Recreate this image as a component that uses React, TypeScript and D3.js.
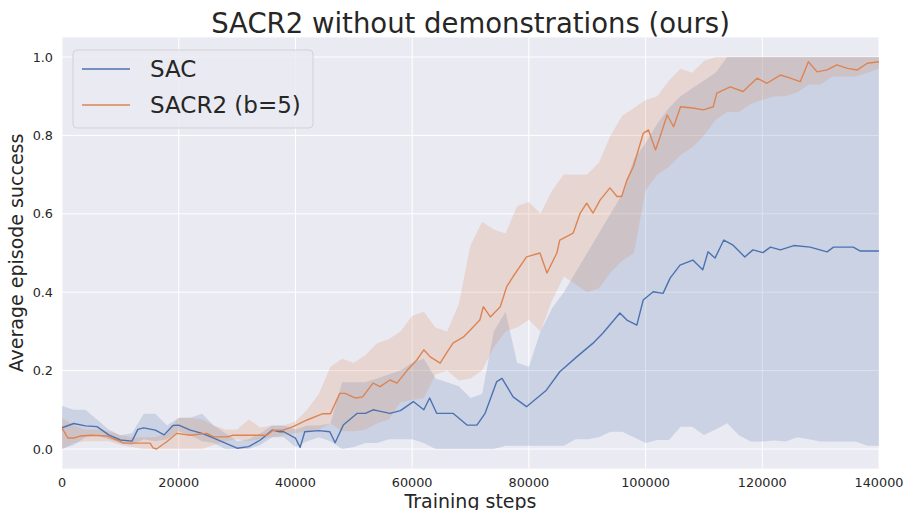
import { useMemo } from "react";
import * as d3 from "d3";

// band samples, every 2000 training steps
const bandSteps = d3.range(0, 140001, 2000);

const sacUpper = [
    0.11, 0.1, 0.1, 0.075, 0.05, 0.035, 0.04, 0.09, 0.09, 0.06,
    0.08, 0.08, 0.09, 0.06, 0.04, 0.02, 0.025, 0.04, 0.06, 0.06,
    0.05, 0.06, 0.06, 0.065, 0.17, 0.17, 0.17, 0.18, 0.19, 0.2,
    0.22, 0.23, 0.18, 0.17, 0.16, 0.13, 0.14, 0.3, 0.35, 0.22,
    0.21, 0.3, 0.36, 0.4, 0.45, 0.5, 0.55, 0.6, 0.65, 0.74,
    0.78, 0.83, 0.87, 0.9, 0.92, 0.94, 0.96, 1.0, 1.0, 1.0,
    1.0, 1.0, 1.0, 1.0, 1.0, 1.0, 1.0, 1.0, 1.0, 1.0,
    1.0,
];
const sacLower = [
    0.0, 0.01, 0.03, 0.035, 0.025, 0.015, 0.01, 0.025, 0.02, 0.025,
    0.045, 0.035, 0.02, 0.015, 0.0, 0.0, 0.0, 0.01, 0.03, 0.03,
    0.005, 0.02, 0.03, 0.02, 0.0, 0.005, 0.015, 0.015, 0.025, 0.025,
    0.025, 0.015, 0.0, 0.0, 0.0, 0.0, 0.0, 0.0, 0.008, 0.008,
    0.008, 0.008, 0.008, 0.008, 0.025, 0.025, 0.03, 0.044, 0.044, 0.03,
    0.015, 0.023, 0.023, 0.057, 0.057, 0.036, 0.05, 0.066, 0.035, 0.019,
    0.019, 0.022, 0.019, 0.03, 0.025, 0.019, 0.019, 0.019, 0.019, 0.008,
    0.008,
];
const sacr2Upper = [
    0.08, 0.06, 0.05, 0.05, 0.045, 0.035, 0.03, 0.03, 0.03, 0.04,
    0.08, 0.08, 0.075, 0.06, 0.05, 0.05, 0.075, 0.055, 0.06, 0.06,
    0.07, 0.1, 0.14, 0.21, 0.23, 0.22, 0.24, 0.27, 0.28, 0.3,
    0.34, 0.35, 0.31, 0.3, 0.37, 0.52, 0.58, 0.56, 0.55, 0.62,
    0.63, 0.6, 0.66, 0.7, 0.7, 0.7, 0.73, 0.8, 0.85, 0.87,
    0.89, 0.9, 0.94, 0.97, 0.96, 0.99, 1.0, 1.0, 1.0, 1.0,
    1.0, 1.0, 1.0, 1.0, 1.0, 1.0, 1.0, 1.0, 1.0, 1.0,
    1.0,
];
const sacr2Lower = [
    0.0, 0.015, 0.02, 0.02, 0.02, 0.01, 0.005, 0.0, 0.0, 0.0,
    0.0, 0.0, 0.0, 0.01, 0.02, 0.025, 0.02, 0.025, 0.03, 0.035,
    0.04, 0.045, 0.05, 0.066, 0.045, 0.045, 0.05, 0.066, 0.075, 0.12,
    0.125, 0.13, 0.19, 0.2, 0.175, 0.18, 0.2, 0.26, 0.3, 0.31,
    0.33, 0.3, 0.38, 0.44, 0.42, 0.4, 0.41, 0.45, 0.48, 0.5,
    0.66, 0.7, 0.72, 0.75, 0.77, 0.8, 0.84, 0.86, 0.86, 0.88,
    0.89, 0.9, 0.9, 0.91, 0.93, 0.93, 0.95, 0.95, 0.95, 0.96,
    0.97,
];

// mean curves, read at the turning points of each line
const sacSteps = [
    0, 2000, 4000, 6000, 8000, 10000, 12000, 13000, 14000, 16000, 17500, 19000, 20000,
    22000, 24000, 26000, 28000, 30000, 32000, 34000, 36000, 37300, 38000, 40000, 40800,
    41600, 44000, 45900, 46800, 48200, 50600, 52000, 53300, 54000, 56200, 58000, 60200,
    62000, 63000, 64200, 67000, 69400, 71100, 72500, 74500, 75400, 77300, 79600, 83000,
    85300, 88200, 91000, 92700, 95600, 96800, 98500, 99600, 101300, 103000, 104200,
    105900, 108100, 109800, 110700, 111900, 113400, 115000, 117000, 118400, 120100,
    121400, 123100, 125400, 128200, 131100, 132200, 135600, 136800, 140000,
];
const sacMean = [
    0.054, 0.065, 0.059, 0.057, 0.036, 0.023, 0.02, 0.05, 0.054, 0.048, 0.036, 0.06, 0.061,
    0.048, 0.04, 0.028, 0.015, 0.002, 0.006, 0.023, 0.048, 0.044, 0.044, 0.028, 0.004,
    0.044, 0.047, 0.044, 0.016, 0.061, 0.091, 0.091, 0.1, 0.098, 0.091, 0.098, 0.121,
    0.1, 0.13, 0.091, 0.091, 0.061, 0.061, 0.091, 0.172, 0.18, 0.133, 0.108, 0.15,
    0.197, 0.235, 0.27, 0.296, 0.347, 0.329, 0.316, 0.38, 0.401, 0.397, 0.436,
    0.469, 0.482, 0.457, 0.503, 0.487, 0.533, 0.52, 0.49, 0.508, 0.501,
    0.515, 0.508, 0.519, 0.515, 0.503, 0.515, 0.515, 0.505, 0.505,
];

const sacr2Steps = [
    0, 1000, 2000, 3100, 5000, 7700, 9400, 10500, 15100, 15600, 16200, 18000, 19700,
    22000, 24800, 26000, 28300, 29300, 35100, 36200, 37900, 39600, 42000, 44700, 46000,
    47600, 48500, 50300, 51500, 53300, 54500, 56200, 57400, 59100, 60800, 62000, 63100,
    64800, 65900, 67000, 68800, 70500, 71600, 72200, 73400, 75100, 76200, 77300, 79600,
    81900, 83100, 84800, 85300, 87600, 88800, 89900, 91000, 92200, 93900, 95100, 95900,
    96800, 97900, 99600, 100500, 101700, 102500, 103700, 104800, 106000, 108100, 109900,
    111600, 112200, 114500, 116700, 119100, 120800, 123100, 124800, 126500, 127900,
    129400, 131100, 132800, 134600, 136300, 138000, 140000,
];
const sacr2Mean = [
    0.054, 0.028, 0.028, 0.033, 0.035, 0.033, 0.023, 0.015, 0.015, 0.003, 0.0, 0.019, 0.04,
    0.035, 0.04, 0.031, 0.031, 0.035, 0.035, 0.048, 0.048, 0.057, 0.074, 0.09, 0.09,
    0.142, 0.142, 0.13, 0.133, 0.168, 0.159, 0.176, 0.168, 0.2, 0.227, 0.253, 0.235,
    0.219, 0.245, 0.27, 0.286, 0.312, 0.329, 0.363, 0.337, 0.363, 0.414, 0.44, 0.49,
    0.5, 0.449, 0.5, 0.533, 0.551, 0.602, 0.627, 0.602, 0.635, 0.666, 0.644, 0.644,
    0.686, 0.72, 0.805, 0.814, 0.763, 0.797, 0.852, 0.822, 0.873, 0.87, 0.865,
    0.873, 0.908, 0.924, 0.912, 0.946, 0.933, 0.954, 0.946, 0.937, 0.988,
    0.962, 0.967, 0.98, 0.971, 0.967, 0.984, 0.988,
];

const xTicks = [0, 20000, 40000, 60000, 80000, 100000, 120000, 140000];
const yTicks = [0.0, 0.2, 0.4, 0.6, 0.8, 1.0];

const seriesList = [
    { name: "SAC", color: "#4C72B0", steps: sacSteps, mean: sacMean, lower: sacLower, upper: sacUpper },
    { name: "SACR2 (b=5)", color: "#DD8452", steps: sacr2Steps, mean: sacr2Mean, lower: sacr2Lower, upper: sacr2Upper },
];

const W = 903;
const H = 510;
const plot = { left: 62, right: 879, top: 37.4, bottom: 468.6 };
const font = "DejaVu Sans, Verdana, sans-serif";
const ink = "#262626";

export default function App() {
    const x = useMemo(() => d3.scaleLinear().domain([0, 140000]).range([plot.left, plot.right]), []);
    const y = useMemo(() => d3.scaleLinear().domain([-0.05, 1.05]).range([plot.bottom, plot.top]), []);

    const line = (xs: number[], ys: number[]) =>
        d3.line<number>().x((_, i) => x(xs[i])).y(d => y(d))(ys) || "";
    const area = (lo: number[], hi: number[]) =>
        d3.area<number>()
            .x((_, i) => x(bandSteps[i]))
            .y0((_, i) => y(lo[i]))
            .y1((_, i) => y(hi[i]))(lo) || "";

    return (
        <svg width={W} height={H} style={{ position: "fixed", left: 0, top: 0, background: "#fff" }}>
            <defs>
                <clipPath id="plotclip">
                    <rect x={plot.left} y={plot.top} width={plot.right - plot.left} height={plot.bottom - plot.top} />
                </clipPath>
            </defs>
            <rect x={plot.left} y={plot.top} width={plot.right - plot.left} height={plot.bottom - plot.top} fill="#EAEAF2" />
            {xTicks.map(t => (
                <line key={`gx${t}`} x1={x(t)} x2={x(t)} y1={plot.top} y2={plot.bottom} stroke="#fff" strokeWidth={1} />
            ))}
            {yTicks.map(t => (
                <line key={`gy${t}`} x1={plot.left} x2={plot.right} y1={y(t)} y2={y(t)} stroke="#fff" strokeWidth={1} />
            ))}
            <g clipPath="url(#plotclip)">
                {seriesList.map(s => (
                    <path key={`band-${s.name}`} d={area(s.lower, s.upper)} fill={s.color} fillOpacity={0.2} stroke="none" />
                ))}
                {seriesList.map(s => (
                    <path key={`line-${s.name}`} d={line(s.steps, s.mean)} fill="none" stroke={s.color} strokeWidth={1.4} strokeLinejoin="round" />
                ))}
            </g>
            {xTicks.map(t => (
                <text key={`tx${t}`} x={x(t)} y={487} textAnchor="middle" fontFamily={font} fontSize={12.8} fill={ink}>
                    {t}
                </text>
            ))}
            {yTicks.map(t => (
                <text key={`ty${t}`} x={53} y={y(t) + 4.6} textAnchor="end" fontFamily={font} fontSize={12.8} fill={ink}>
                    {t.toFixed(1)}
                </text>
            ))}
            <text x={(plot.left + plot.right) / 2} y={33} textAnchor="middle" fontFamily={font} fontSize={27.5} fill={ink}>
                SACR2 without demonstrations (ours)
            </text>
            <text x={(plot.left + plot.right) / 2} y={507.5} textAnchor="middle" fontFamily={font} fontSize={19} fill={ink}>
                Training steps
            </text>
            <text
                transform={`translate(23, ${(plot.top + plot.bottom) / 2}) rotate(-90)`}
                textAnchor="middle"
                fontFamily={font}
                fontSize={19}
                fill={ink}
            >
                Average episode success
            </text>
            <g>
                <rect x={73} y={50} width={240} height={78} rx={4} fill="#EAEAF2" fillOpacity={0.8} stroke="#CCCCCC" strokeOpacity={0.8} />
                {seriesList.map((s, i) => (
                    <g key={`leg-${s.name}`} transform={`translate(0, ${69 + i * 36})`}>
                        <line x1={82} x2={130} y1={0} y2={0} stroke={s.color} strokeWidth={1.4} />
                        <text x={150} y={8.3} fontFamily={font} fontSize={23} fill={ink}>
                            {s.name}
                        </text>
                    </g>
                ))}
            </g>
        </svg>
    );
}
